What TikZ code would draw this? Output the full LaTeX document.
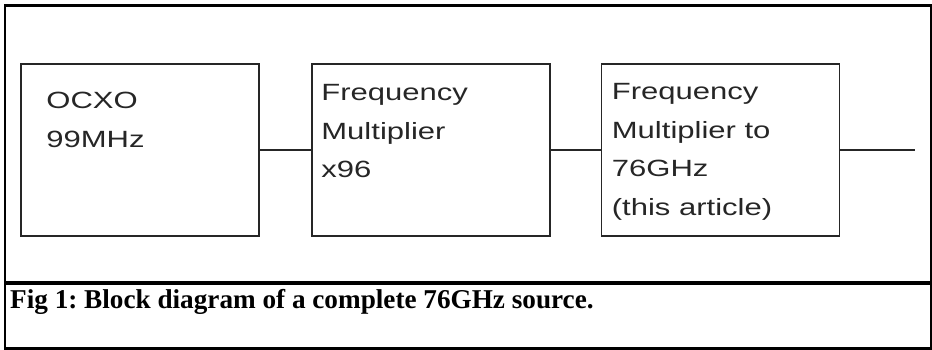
\documentclass[tikz,border=0pt]{standalone}
\usepackage{fontspec}
\setmainfont{Liberation Serif}
\newfontfamily\blkfont[FakeStretch=1.32]{Liberation Sans}
\frenchspacing
\begin{document}
\begin{tikzpicture}[
  x=1pt, y=1pt,
  fig1frame/.style = {line width=2.5pt},
  fig1box/.style = {draw=black!85, line width=1.6pt, minimum width=238pt,
    minimum height=172pt, inner sep=0pt},
  fig1txt/.style = {anchor=north west, align=left, inner sep=0pt,
    font=\blkfont\fontsize{23.5}{38.5}\selectfont, text=black!85},
  fig1wire/.style = {draw=black!85, line width=1.5pt},
  fig1cap/.style = {anchor=base west, inner sep=0pt,
    font=\bfseries\fontsize{27.2}{32}\selectfont}
]
  \useasboundingbox (0,0) rectangle (932,350);
  % frames
  \draw[fig1frame] (5,68) rectangle (930.8,344.5);
  \draw[fig1frame] (5,1.5) rectangle (930.8,66);
  % blocks
  \node[fig1box] (ocxo) at (140,200) {};
  \node[fig1box] (mult) at (431,200) {};
  \node[fig1box] (mmw) at (720.5,200) {};
  % block texts
  \node[fig1txt] (ocxotxt) at ([shift={(26,-29)}]ocxo.north west)
    {OCXO\\99MHz};
  \node[fig1txt] (multtxt) at ([shift={(10,-21)}]mult.north west)
    {Frequency\\Multiplier\\x96};
  \node[fig1txt] (mmwtxt) at ([shift={(11,-20)}]mmw.north west)
    {Frequency\\Multiplier to\\76GHz\\(this article)};
  % wires
  \coordinate (out) at (915,200);
  \draw[fig1wire] (ocxo.east) -- (mult.west);
  \draw[fig1wire] (mult.east) -- (mmw.west);
  \draw[fig1wire] (mmw.east) -- (out);
  % caption
  \node[fig1cap] (cap) at (10,41)
    {Fig 1: Block diagram of a complete 76GHz source.};
\end{tikzpicture}
\end{document}
